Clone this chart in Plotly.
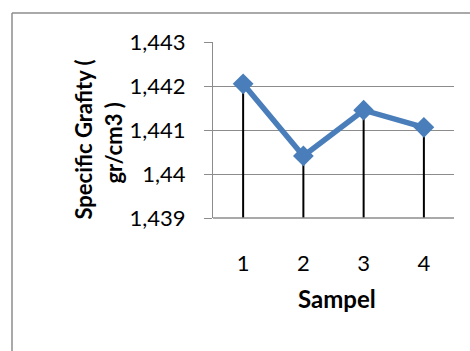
import plotly.graph_objects as go

samples = ["1", "2", "3", "4"]
specific_gravity = [1.44205, 1.44041, 1.44145, 1.44106]
y_ticks = [1.439, 1.440, 1.441, 1.442, 1.443]
y_tick_labels = ["1,439", "1,44", "1,441", "1,442", "1,443"]
y_min = 1.439

FONT = "Lato, Open Sans, sans-serif"
L, R, T, B = 213, 16, 42, 133
pw = 470 - L - R
ph = 351 - T - B


def px_x(v):
    return (v - L) / pw


def px_y(v):
    return (351 - B - v) / ph


fig = go.Figure()
fig.add_trace(go.Scatter(
    x=samples, y=specific_gravity, mode="lines+markers",
    line=dict(color="#4A7EBB", width=5.5),
    marker=dict(symbol="diamond", size=16, color="#4A7EBB"),
    error_y=dict(type="data", symmetric=False,
                 array=[0] * len(specific_gravity),
                 arrayminus=[v - y_min for v in specific_gravity],
                 color="black", thickness=2, width=0),
    showlegend=False,
))

fig.update_layout(
    width=470, height=351,
    margin=dict(l=L, r=R, t=T, b=B),
    paper_bgcolor="white", plot_bgcolor="white",
    font=dict(family=FONT, size=22, color="black"),
    xaxis=dict(type="category", range=[-0.5, len(samples) - 0.5],
               showgrid=False, showline=False, ticks="",
               ticklabelstandoff=30, tickfont=dict(size=22)),
    yaxis=dict(range=[1.439, 1.443], tickvals=y_ticks, ticktext=y_tick_labels,
               showgrid=True, gridcolor="#8C8C8C", gridwidth=1.3,
               showline=True, linecolor="#8C8C8C", linewidth=1.3,
               ticks="outside", ticklen=8, tickcolor="#8C8C8C",
               ticklabelstandoff=14, tickfont=dict(size=22), zeroline=False),
    shapes=[
        dict(type="line", xref="paper", yref="paper",
             x0=px_x(12), x1=px_x(470), y0=px_y(13), y1=px_y(13),
             line=dict(color="#8C8C8C", width=1.5), layer="below"),
        dict(type="line", xref="paper", yref="paper",
             x0=px_x(12), x1=px_x(12), y0=px_y(13), y1=px_y(351),
             line=dict(color="#8C8C8C", width=1.5), layer="below"),
        dict(type="line", xref="paper", yref="paper", x0=0, x1=1, y0=0, y1=0,
             line=dict(color="#8C8C8C", width=1.5)),
    ],
    annotations=[
        dict(text="<b>Specific Grafity (</b>", xref="paper", yref="paper",
             x=px_x(67), y=px_y(140), textangle=-90,
             showarrow=False, font=dict(size=22)),
        dict(text="<b>gr/cm3 )</b>", xref="paper", yref="paper",
             x=px_x(97), y=px_y(143), textangle=-90,
             showarrow=False, font=dict(size=22)),
        dict(text="<b>Sampel</b>", xref="paper", yref="paper",
             x=px_x(337), y=px_y(315),
             showarrow=False, font=dict(size=24)),
    ],
)

fig.write_html("out.html", config={"displayModeBar": False})
with open("out.html", encoding="utf-8") as f:
    html = f.read()
html = html.replace("<head>", "<head><style>html,body{margin:0;padding:0;overflow:hidden;}</style>", 1)
with open("out.html", "w", encoding="utf-8") as f:
    f.write(html)
